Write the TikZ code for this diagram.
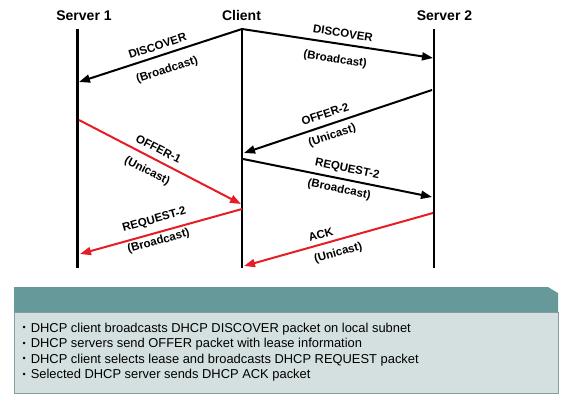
\documentclass[tikz,border=0pt]{standalone}
\usepackage{fontspec}
\setmainfont{Liberation Sans}
\usetikzlibrary{arrows.meta}
\definecolor{msgred}{RGB}{232,28,36}
\definecolor{bannerteal}{RGB}{102,153,153}
\definecolor{notegrey}{RGB}{212,224,224}
\definecolor{noteedge}{RGB}{130,160,160}
\begin{document}
\begin{tikzpicture}[x=1pt,y=-1pt,
       head/.style={font=\fontsize{14}{16}\selectfont\bfseries, inner sep=0pt, anchor=base},
       life/.style={line width=2.6pt},
       msg/.style={line width=2pt,-{Triangle[length=11pt,width=8pt]}},
       redmsg/.style={msg,draw=msgred,-{Triangle[length=11pt,width=8pt,fill=msgred]}},
       lbl/.style={font=\fontsize{11.5}{13}\selectfont\bfseries, sloped, inner sep=0pt},
       note/.style={font=\fontsize{12.9}{15}\selectfont, inner sep=0pt, anchor=base west}]
   \useasboundingbox (0,0) rectangle (567,402);
   % hosts and their time lines
   \node [head] (server1) at (84,20) {Server 1};
   \node [head] (client) at (241.5,20) {Client};
   \node [head] (server2) at (444.5,20) {Server 2};
   \coordinate (s1top) at (77.5,29);  \coordinate (s1end) at (77.5,268);
   \coordinate (ctop) at (242,28);    \coordinate (cend) at (242,268);
   \coordinate (s2top) at (434,29);   \coordinate (s2end) at (434,268);
   \draw [life] (s1top) -- (s1end);
   \draw [life] (ctop) -- (cend);
   \draw [life] (s2top) -- (s2end);
   % message end points
   \coordinate (c1) at (242,29);
   \coordinate (s1a) at (79,82);    \coordinate (s2a) at (433,58);
   \coordinate (s2b) at (432,90);   \coordinate (c2) at (244,153);
   \coordinate (c3) at (243,159);   \coordinate (s2c) at (432,197);
   \coordinate (s1b) at (79,120);   \coordinate (c4) at (241,204);
   \coordinate (c5) at (242,209);   \coordinate (s1c) at (80,254);
   \coordinate (s2d) at (433,213);  \coordinate (c6) at (244,266);
   % messages
   \draw [msg] (c1) -- node [lbl, above=5pt, pos=0.5] {DISCOVER}
                       node [lbl, below=9.7pt, pos=0.49] {(Broadcast)} (s1a);
   \draw [msg] (c1) -- node [lbl, above=6pt, pos=0.52] {DISCOVER}
                       node [lbl, below=9.7pt, pos=0.5] {(Broadcast)} (s2a);
   \draw [msg] (s2b) -- node [lbl, above=6pt, pos=0.55] {OFFER-2}
                        node [lbl, below=5.2pt, pos=0.55] {(Unicast)} (c2);
   \draw [msg] (c3) -- node [lbl, above=4.5pt, pos=0.54] {REQUEST-2}
                       node [lbl, below=4.7pt, pos=0.52] {(Broadcast)} (s2c);
   \draw [redmsg] (s1b) -- node [lbl, above=6pt, pos=0.46] {OFFER-1}
                           node [lbl, below=7.7pt, pos=0.46] {(Unicast)} (c4);
   \draw [redmsg] (c5) -- node [lbl, above=6.5pt, pos=0.52] {REQUEST-2}
                          node [lbl, below=2.7pt, pos=0.53] {(Broadcast)} (s1c);
   \draw [redmsg] (s2d) -- node [lbl, above=4.5pt, pos=0.58] {ACK}
                           node [lbl, below=6.7pt, pos=0.52] {(Unicast)} (c6);
   % summary box
   \fill [bannerteal] (14,287) -- (548,287) -- (558,293) -- (558,312) -- (14,312) -- cycle;
   \filldraw [fill=notegrey, draw=noteedge, line width=0.8pt] (14,312) rectangle (558,393);
   \foreach \txt [count=\i] in {DHCP client broadcasts DHCP DISCOVER packet on local subnet,
                                DHCP servers send OFFER packet with lease information,
                                DHCP client selects lease and broadcasts DHCP REQUEST packet,
                                Selected DHCP server sends DHCP ACK packet}
      \node [note] (line\i) at (22.5,316.5+15.5*\i)
            {\raisebox{1.5pt}{\fontsize{9}{9}\selectfont •}\hspace{5pt}\txt};
\end{tikzpicture}
\end{document}
